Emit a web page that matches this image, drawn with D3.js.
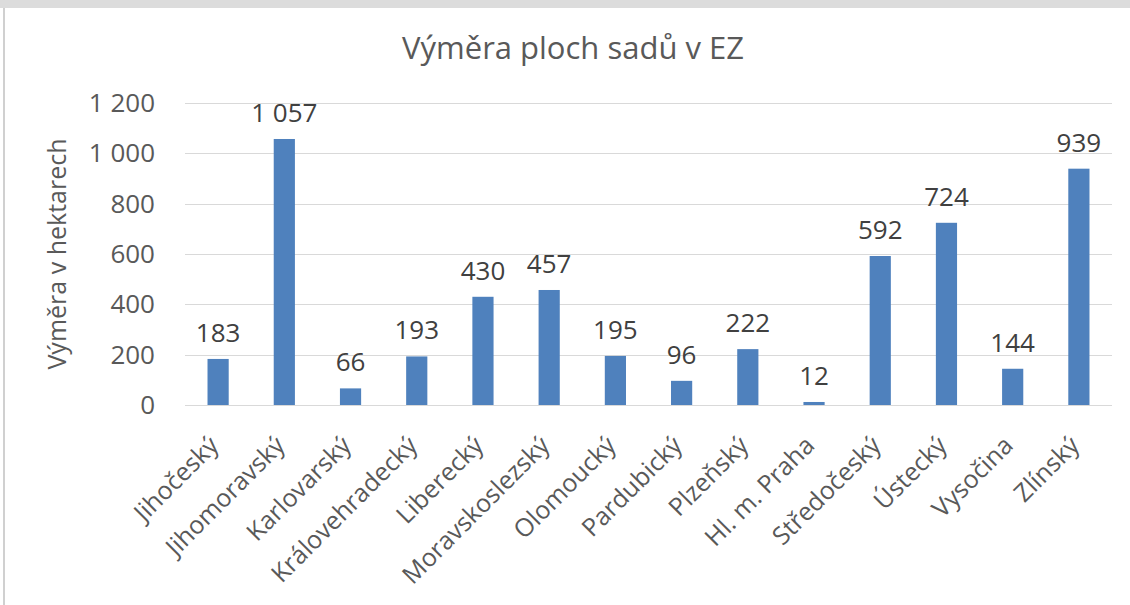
<!DOCTYPE html>
<html>
<head>
    <meta charset="utf-8">
    <title>Výměra ploch sadů v EZ</title>
    <script src="https://d3js.org/d3.v7.min.js"></script>
    <style>
        body { margin: 0; background: #fff; }
        text { font-family: "Open Sans", "Noto Sans", sans-serif; }
    </style>
</head>
<body>
    <script>
        // data
        var regions = ["Jihočeský", "Jihomoravský", "Karlovarský", "Královehradecký", "Liberecký",
            "Moravskoslezský", "Olomoucký", "Pardubický", "Plzeňský", "Hl. m. Praha",
            "Středočeský", "Ústecký", "Vysočina", "Zlínský"];
        var area = [183, 1057, 66, 193, 430, 457, 195, 96, 222, 12, 592, 724, 144, 939];
        var yTicks = [0, 200, 400, 600, 800, 1000, 1200];

        var width = 1130, height = 605;
        var margin = {left: 185, right: 18, top: 103, bottom: 200};

        var svg = d3.select("body").append("svg")
            .attr("width", width)
            .attr("height", height);

        // frame
        svg.append("rect").attr("x", 0).attr("y", 0).attr("width", width).attr("height", 8).attr("fill", "#dcdcdc");
        svg.append("rect").attr("x", 3).attr("y", 8).attr("width", 2).attr("height", height - 8).attr("fill", "#d0d0d0");

        var x = d3.scaleBand()
            .domain(regions)
            .range([margin.left, width - margin.right])
            .paddingInner(0.68)
            .paddingOuter(0.34);

        var y = d3.scaleLinear()
            .domain([0, 1200])
            .range([height - margin.bottom, margin.top]);

        var fmt = function(v) { return d3.format(",")(v).replace(/,/g, "\u00a0"); };

        // grid
        svg.append("g")
            .selectAll("line")
            .data(yTicks)
            .enter().append("line")
            .attr("x1", margin.left)
            .attr("x2", width - margin.right)
            .attr("y1", function(d) { return Math.round(y(d)) + 0.5; })
            .attr("y2", function(d) { return Math.round(y(d)) + 0.5; })
            .attr("stroke", "#d9d9d9")
            .attr("stroke-width", 1);

        // y tick labels
        svg.append("g")
            .selectAll("text")
            .data(yTicks)
            .enter().append("text")
            .attr("x", 155)
            .attr("y", function(d) { return y(d); })
            .attr("dy", "0.35em")
            .attr("text-anchor", "end")
            .attr("fill", "#595959")
            .style("font-size", "26px")
            .text(fmt);

        // bars
        svg.append("g")
            .selectAll("rect")
            .data(area)
            .enter().append("rect")
            .attr("x", function(d, i) { return x(regions[i]); })
            .attr("y", function(d) { return y(d); })
            .attr("width", x.bandwidth())
            .attr("height", function(d) { return y(0) - y(d); })
            .attr("fill", "#4f81bd");

        // value labels
        svg.append("g")
            .selectAll("text")
            .data(area)
            .enter().append("text")
            .attr("x", function(d, i) { return x(regions[i]) + x.bandwidth() / 2; })
            .attr("y", function(d) { return y(d) - 17; })
            .attr("text-anchor", "middle")
            .attr("fill", "#404040")
            .style("font-size", "26px")
            .text(fmt);

        // category labels
        svg.append("g")
            .selectAll("text")
            .data(regions)
            .enter().append("text")
            .attr("transform", function(d) {
                return "translate(" + (x(d) + x.bandwidth() / 2 + 2) + "," + (height - margin.bottom + 42) + ") rotate(-45)";
            })
            .attr("text-anchor", "end")
            .attr("fill", "#595959")
            .style("font-size", "25px")
            .text(function(d) { return d; });

        // title
        svg.append("text")
            .attr("x", 573)
            .attr("y", 59)
            .attr("text-anchor", "middle")
            .attr("fill", "#595959")
            .style("font-size", "31px")
            .text("Výměra ploch sadů v EZ");

        // y axis title
        svg.append("text")
            .attr("transform", "translate(66," + ((y(0) + y(1200)) / 2) + ") rotate(-90)")
            .attr("text-anchor", "middle")
            .attr("fill", "#595959")
            .style("font-size", "25px")
            .text("Výměra v hektarech");
    </script>
</body>
</html>
